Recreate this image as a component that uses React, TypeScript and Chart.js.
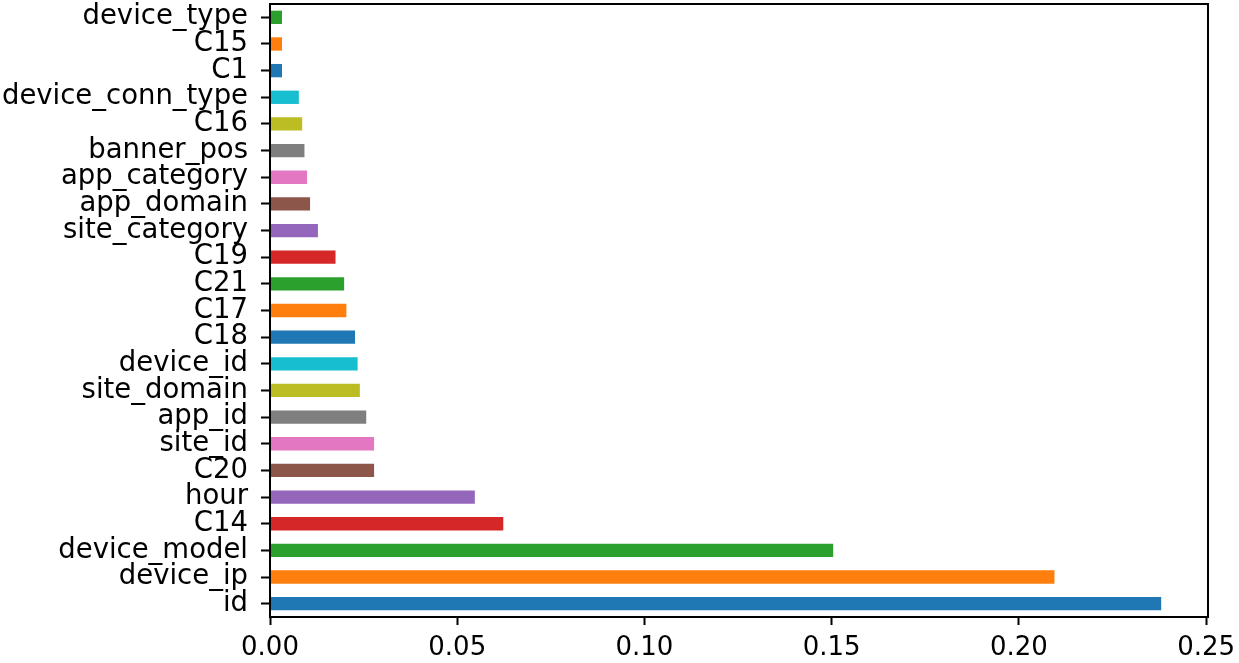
import React, { useEffect, useRef } from "react";
import { Chart, registerables } from "chart.js";

Chart.register(...registerables);

const features = [
  "id", "device_ip", "device_model", "C14", "hour", "C20", "site_id", "app_id",
  "site_domain", "device_id", "C18", "C17", "C21", "C19", "site_category",
  "app_domain", "app_category", "banner_pos", "C16", "device_conn_type",
  "C1", "C15", "device_type",
];

const importances = [
  0.2380, 0.2095, 0.1504, 0.0623, 0.0547, 0.0278, 0.0278, 0.0257,
  0.0240, 0.0234, 0.0227, 0.0204, 0.0198, 0.0175, 0.0128,
  0.0107, 0.0099, 0.0092, 0.0086, 0.0077,
  0.0032, 0.0032, 0.0032,
];

const xTicks = [0, 0.05, 0.1, 0.15, 0.2, 0.25];

const tab10 = [
  "#1f77b4", "#ff7f0e", "#2ca02c", "#d62728", "#9467bd",
  "#8c564b", "#e377c2", "#7f7f7f", "#bcbd22", "#17becf",
];

const framePlugin = {
  id: "frame",
  afterDraw(chart: any) {
    const { ctx, chartArea } = chart;
    const { left, top, right, bottom } = chartArea;
    ctx.save();
    ctx.strokeStyle = "#000";
    ctx.lineWidth = 2;
    ctx.strokeRect(left, top, right - left, bottom - top);
    ctx.restore();
  },
};

export default function App() {
  const ref = useRef<HTMLCanvasElement | null>(null);

  useEffect(() => {
    if (!ref.current) return;
    const yFont = { family: "'DejaVu Sans', sans-serif", size: 27.5 };
    const xFont = { family: "'DejaVu Sans', sans-serif", size: 26 };
    const chart = new Chart(ref.current, {
      type: "bar",
      data: {
        labels: features,
        datasets: [
          {
            data: importances,
            backgroundColor: features.map((_, i) => tab10[i % 10]),
            borderWidth: 0,
            barPercentage: 0.5,
            categoryPercentage: 1.0,
          },
        ],
      },
      options: {
        indexAxis: "y",
        animation: false,
        responsive: true,
        maintainAspectRatio: false,
        layout: { padding: { left: 0, top: 4, right: 31, bottom: 0 } },
        plugins: {
          legend: { display: false },
          tooltip: { enabled: false },
        },
        scales: {
          x: {
            type: "linear",
            min: 0,
            max: 0.2505,
            afterBuildTicks: (scale: any) => {
              scale.ticks = xTicks.map((v) => ({ value: v }));
            },
            afterFit: (scale: any) => {
              scale.height = 46;
              scale.paddingLeft = 0;
              scale.paddingRight = 0;
              scale.paddingTop = 0;
              scale.paddingBottom = 0;
            },
            grid: {
              drawOnChartArea: false,
              drawTicks: true,
              tickLength: 8,
              tickWidth: 2,
              tickColor: "#000",
            },
            border: { display: false },
            ticks: {
              color: "#000",
              font: xFont,
              padding: 8,
              maxRotation: 0,
              callback: (v: any) => Number(v).toFixed(2),
            },
          },
          y: {
            type: "category",
            reverse: true,
            offset: true,
            afterFit: (scale: any) => {
              scale.width = 270;
              scale.paddingLeft = 0;
              scale.paddingRight = 0;
              scale.paddingTop = 0;
              scale.paddingBottom = 0;
            },
            grid: {
              offset: false,
              drawOnChartArea: false,
              drawTicks: true,
              tickLength: 9,
              tickWidth: 2,
              tickColor: "#000",
            },
            border: { display: false },
            ticks: {
              color: "#000",
              font: yFont,
              padding: 13,
              autoSkip: false,
            },
          },
        },
      },
      plugins: [framePlugin],
    });
    return () => chart.destroy();
  }, []);

  return (
    <div
      style={{
        position: "fixed",
        left: 0,
        top: 0,
        width: 1239,
        height: 663,
        background: "#fff",
      }}
    >
      <canvas ref={ref} />
    </div>
  );
}
